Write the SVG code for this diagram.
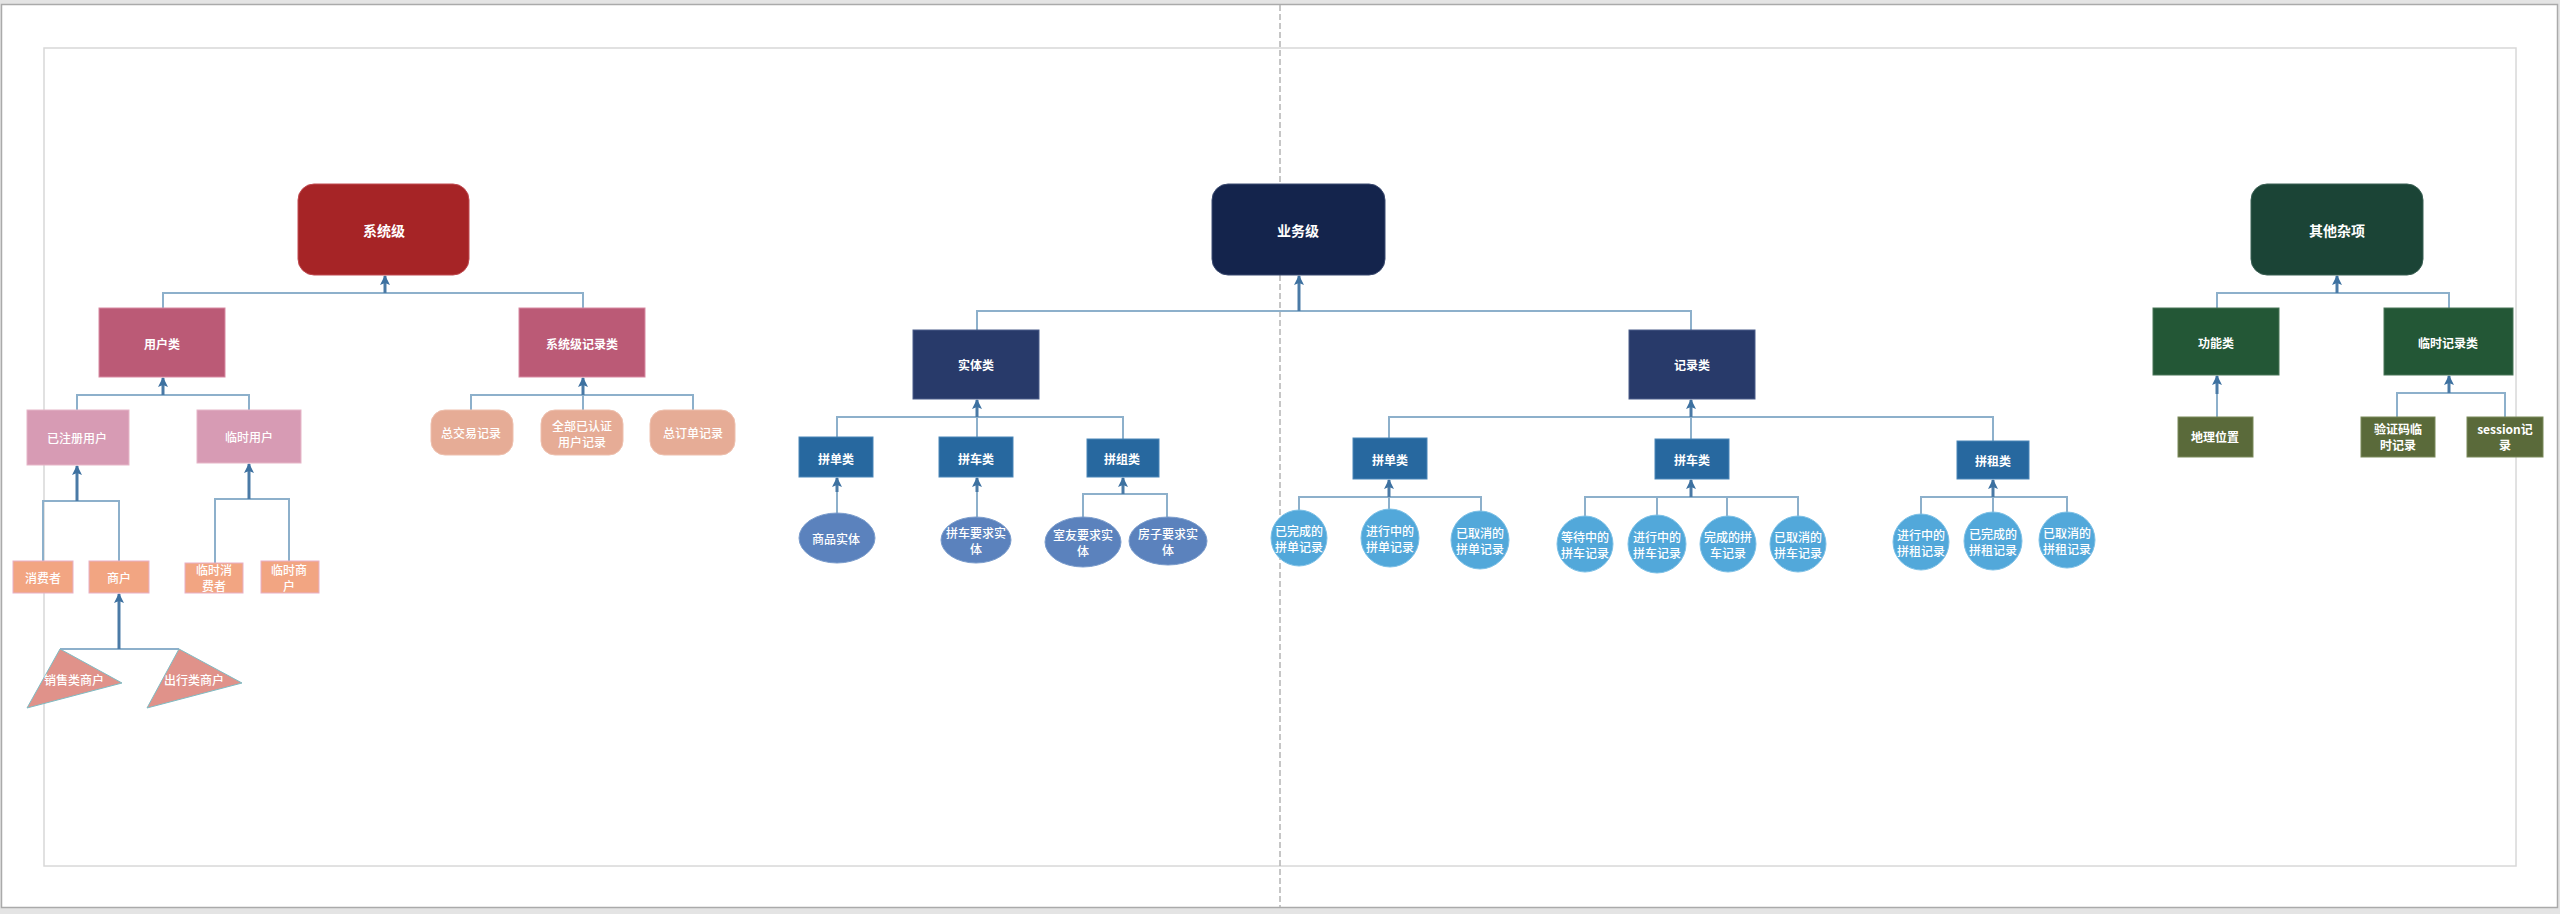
<svg xmlns="http://www.w3.org/2000/svg" width="2560" height="914" viewBox="0 0 2560 914">
<defs>
<marker id="arr" markerUnits="userSpaceOnUse" markerWidth="10" markerHeight="10" viewBox="0 0 10 10" refX="9" refY="5" orient="auto">
<path d="M0,0 L10,5 L0,10 L2,5 Z" fill="#3d71a0"/>
</marker>
<style>
.br{fill:none;stroke:#8db0cb;stroke-width:2}
.st{fill:none;stroke:#4a7aa6;stroke-width:3}
text{font-family:"Noto Sans CJK SC","Noto Sans",sans-serif;fill:#fff;text-anchor:middle;dominant-baseline:central;font-size:12px;font-weight:500}
.big{font-size:14px;font-weight:bold}
.mid{font-size:12px;font-weight:bold}
</style>
</defs>
<rect x="0" y="0" width="2560" height="914" fill="#e4e4e4"/>
<rect x="1.5" y="4.5" width="2556" height="903" fill="#fff" stroke="#aaa" stroke-width="1.5"/>
<rect x="44" y="48" width="2472" height="818" fill="none" stroke="#d8d8d8" stroke-width="1.5"/>
<line x1="1280" y1="5" x2="1280" y2="907" stroke="#b4b4b4" stroke-width="1.5" stroke-dasharray="6,3"/>

<g id="connectors">
<path class="br" d="M163,308V293H583V308"/>
<path class="st" d="M385,293V276" marker-end="url(#arr)"/>
<path class="br" d="M77,410V395H249V410"/>
<path class="st" d="M163,395V378" marker-end="url(#arr)"/>
<path class="br" d="M471,410V395H693V410M583,395V410"/>
<path class="st" d="M583,395V378" marker-end="url(#arr)"/>
<path class="br" d="M43,561V501H119V561"/>
<path class="st" d="M77,501V466" marker-end="url(#arr)"/>
<path class="br" d="M215,563V499H289V561"/>
<path class="st" d="M249,499V464" marker-end="url(#arr)"/>
<path class="br" d="M60,649H179"/>
<path class="st" d="M119,649V594" marker-end="url(#arr)"/>
<path class="br" d="M977,330V311H1691V330"/>
<path class="st" d="M1299,311V276" marker-end="url(#arr)"/>
<path class="br" d="M837,437V417H1123V439M977,417V437"/>
<path class="st" d="M977,417V400" marker-end="url(#arr)"/>
<path class="br" d="M837,513V490"/>
<path class="st" d="M837,492V478" marker-end="url(#arr)"/>
<path class="br" d="M977,517V490"/>
<path class="st" d="M977,492V478" marker-end="url(#arr)"/>
<path class="br" d="M1083,517V494H1167V517"/>
<path class="st" d="M1123,494V478" marker-end="url(#arr)"/>
<path class="br" d="M1389,438V417H1993V441M1691,417V439"/>
<path class="st" d="M1691,417V400" marker-end="url(#arr)"/>
<path class="br" d="M1299,511V497H1481V513M1389,497V510"/>
<path class="st" d="M1389,497V480" marker-end="url(#arr)"/>
<path class="br" d="M1585,517V497H1798V517M1657,497V517M1727,497V517"/>
<path class="st" d="M1691,497V480" marker-end="url(#arr)"/>
<path class="br" d="M1921,515V497H2067V513M1993,497V513"/>
<path class="st" d="M1993,497V480" marker-end="url(#arr)"/>
<path class="br" d="M2217,308V293H2449V308"/>
<path class="st" d="M2337,293V276" marker-end="url(#arr)"/>
<path class="br" d="M2217,417V392"/>
<path class="st" d="M2217,394V376" marker-end="url(#arr)"/>
<path class="br" d="M2397,417V393H2505V417"/>
<path class="st" d="M2449,393V376" marker-end="url(#arr)"/>
</g>

<g id="n-xitongji"><rect x="298" y="184" width="171" height="91" rx="16" fill="#a62426" stroke="#c04a50" stroke-width="1"/><text x="384" y="230" class="big">系统级</text></g>
<g id="n-yonghulei"><rect x="99" y="308" width="126" height="69" fill="#bb5a76" stroke="#d88aa2" stroke-width="1"/><text x="162" y="343" class="mid">用户类</text></g>
<g id="n-xitongjijilu"><rect x="519" y="308" width="126" height="69" fill="#bb5a76" stroke="#d88aa2" stroke-width="1"/><text x="582" y="343" class="mid">系统级记录类</text></g>
<g id="n-yizhuce"><rect x="27" y="410" width="102" height="55" fill="#d79bb4" stroke="#e6b6c8" stroke-width="1"/><text x="77" y="437">已注册用户</text></g>
<g id="n-linshiyonghu"><rect x="197" y="410" width="104" height="53" fill="#d79bb4" stroke="#e6b6c8" stroke-width="1"/><text x="249" y="436">临时用户</text></g>
<g id="n-zongjiaoyi"><rect x="431" y="410" width="82" height="45" rx="14" fill="#e6ac96" stroke="#eec0ae" stroke-width="1"/><text x="471" y="432">总交易记录</text></g>
<g id="n-quanbu"><rect x="541" y="410" width="82" height="45" rx="14" fill="#e6ac96" stroke="#eec0ae" stroke-width="1"/><text x="582" y="425">全部已认证</text><text x="582" y="441">用户记录</text></g>
<g id="n-zongdingdan"><rect x="650" y="410" width="85" height="45" rx="14" fill="#e6ac96" stroke="#eec0ae" stroke-width="1"/><text x="693" y="432">总订单记录</text></g>
<g id="n-xiaofeizhe"><rect x="13" y="561" width="60" height="32" fill="#f2a582" stroke="#e8b0c6" stroke-width="1"/><text x="43" y="577">消费者</text></g>
<g id="n-shanghu"><rect x="89" y="561" width="60" height="32" fill="#f2a582" stroke="#e8b0c6" stroke-width="1"/><text x="119" y="577">商户</text></g>
<g id="n-linshixiaofei"><rect x="185" y="563" width="58" height="30" fill="#f2a582" stroke="#e8b0c6" stroke-width="1"/><text x="214" y="569">临时消</text><text x="214" y="585">费者</text></g>
<g id="n-linshishanghu"><rect x="261" y="561" width="58" height="32" fill="#f2a582" stroke="#e8b0c6" stroke-width="1"/><text x="289" y="569">临时商</text><text x="289" y="585">户</text></g>
<g id="n-xiaoshou"><polygon points="60,649 122,683 27,708" fill="#e0928a" stroke="#7fbcc4" stroke-width="1"/><text x="74" y="679">销售类商户</text></g>
<g id="n-chuxing"><polygon points="179,649 242,683 147,708" fill="#e0928a" stroke="#7fbcc4" stroke-width="1"/><text x="194" y="679">出行类商户</text></g>

<g id="n-yewuji"><rect x="1212" y="184" width="173" height="91" rx="16" fill="#14244c" stroke="#3a4a70" stroke-width="1"/><text x="1298" y="230" class="big">业务级</text></g>
<g id="n-shitilei"><rect x="913" y="330" width="126" height="69" fill="#283a6a" stroke="#4a5c8a" stroke-width="1"/><text x="976" y="364" class="mid">实体类</text></g>
<g id="n-jilulei"><rect x="1629" y="330" width="126" height="69" fill="#283a6a" stroke="#4a5c8a" stroke-width="1"/><text x="1692" y="364" class="mid">记录类</text></g>
<g id="n-pindan1"><rect x="799" y="437" width="74" height="40" fill="#27689f" stroke="#4a86b8" stroke-width="1"/><text x="836" y="458" class="mid">拼单类</text></g>
<g id="n-pinche1"><rect x="939" y="437" width="74" height="40" fill="#27689f" stroke="#4a86b8" stroke-width="1"/><text x="976" y="458" class="mid">拼车类</text></g>
<g id="n-pinzu"><rect x="1087" y="439" width="72" height="38" fill="#27689f" stroke="#4a86b8" stroke-width="1"/><text x="1122" y="458" class="mid">拼组类</text></g>
<g id="n-shangpin"><ellipse cx="837" cy="538" rx="38" ry="25" fill="#5b82bd" stroke="#7a9ccc" stroke-width="1"/><text x="836" y="538">商品实体</text></g>
<g id="n-pincheyaoqiu"><ellipse cx="976" cy="540" rx="35" ry="23" fill="#5b82bd" stroke="#7a9ccc" stroke-width="1"/><text x="976" y="532">拼车要求实</text><text x="976" y="548">体</text></g>
<g id="n-shiyou"><ellipse cx="1083" cy="542" rx="38" ry="25" fill="#5b82bd" stroke="#7a9ccc" stroke-width="1"/><text x="1083" y="534">室友要求实</text><text x="1083" y="550">体</text></g>
<g id="n-fangzi"><ellipse cx="1168" cy="541" rx="39" ry="24" fill="#5b82bd" stroke="#7a9ccc" stroke-width="1"/><text x="1168" y="533">房子要求实</text><text x="1168" y="549">体</text></g>
<g id="n-pindan2"><rect x="1353" y="438" width="74" height="41" fill="#27689f" stroke="#4a86b8" stroke-width="1"/><text x="1390" y="459" class="mid">拼单类</text></g>
<g id="n-pinche2"><rect x="1655" y="439" width="74" height="40" fill="#27689f" stroke="#4a86b8" stroke-width="1"/><text x="1692" y="459" class="mid">拼车类</text></g>
<g id="n-pinzulei"><rect x="1957" y="441" width="72" height="38" fill="#27689f" stroke="#4a86b8" stroke-width="1"/><text x="1993" y="460" class="mid">拼租类</text></g>
<g id="n-c1"><circle cx="1299" cy="538" r="28" fill="#52a8da" stroke="#7cc0e6" stroke-width="1"/><text x="1299" y="530">已完成的</text><text x="1299" y="546">拼单记录</text></g>
<g id="n-c2"><circle cx="1390" cy="538" r="29" fill="#52a8da" stroke="#7cc0e6" stroke-width="1"/><text x="1390" y="530">进行中的</text><text x="1390" y="546">拼单记录</text></g>
<g id="n-c3"><circle cx="1480" cy="540" r="29" fill="#52a8da" stroke="#7cc0e6" stroke-width="1"/><text x="1480" y="532">已取消的</text><text x="1480" y="548">拼单记录</text></g>
<g id="n-c4"><circle cx="1585" cy="544" r="28" fill="#52a8da" stroke="#7cc0e6" stroke-width="1"/><text x="1585" y="536">等待中的</text><text x="1585" y="552">拼车记录</text></g>
<g id="n-c5"><circle cx="1657" cy="544" r="29" fill="#52a8da" stroke="#7cc0e6" stroke-width="1"/><text x="1657" y="536">进行中的</text><text x="1657" y="552">拼车记录</text></g>
<g id="n-c6"><circle cx="1728" cy="544" r="28" fill="#52a8da" stroke="#7cc0e6" stroke-width="1"/><text x="1728" y="536">完成的拼</text><text x="1728" y="552">车记录</text></g>
<g id="n-c7"><circle cx="1798" cy="544" r="28" fill="#52a8da" stroke="#7cc0e6" stroke-width="1"/><text x="1798" y="536">已取消的</text><text x="1798" y="552">拼车记录</text></g>
<g id="n-c8"><circle cx="1921" cy="542" r="28" fill="#52a8da" stroke="#7cc0e6" stroke-width="1"/><text x="1921" y="534">进行中的</text><text x="1921" y="550">拼租记录</text></g>
<g id="n-c9"><circle cx="1993" cy="541" r="29" fill="#52a8da" stroke="#7cc0e6" stroke-width="1"/><text x="1993" y="533">已完成的</text><text x="1993" y="549">拼租记录</text></g>
<g id="n-c10"><circle cx="2067" cy="540" r="28" fill="#52a8da" stroke="#7cc0e6" stroke-width="1"/><text x="2067" y="532">已取消的</text><text x="2067" y="548">拼租记录</text></g>

<g id="n-qita"><rect x="2251" y="184" width="172" height="91" rx="16" fill="#1b4436" stroke="#3a6054" stroke-width="1"/><text x="2337" y="230" class="big">其他杂项</text></g>
<g id="n-gongneng"><rect x="2153" y="308" width="126" height="67" fill="#235736" stroke="#4a7658" stroke-width="1"/><text x="2216" y="342" class="mid">功能类</text></g>
<g id="n-linshijilu"><rect x="2384" y="308" width="129" height="67" fill="#235736" stroke="#4a7658" stroke-width="1"/><text x="2448" y="342" class="mid">临时记录类</text></g>
<g id="n-dili"><rect x="2178" y="417" width="75" height="40" fill="#5a6a3a" stroke="#7b8a5a" stroke-width="1"/><text x="2215" y="436" class="mid">地理位置</text></g>
<g id="n-yanzheng"><rect x="2361" y="417" width="74" height="40" fill="#5a6a3a" stroke="#7b8a5a" stroke-width="1"/><text x="2398" y="428" class="mid">验证码临</text><text x="2398" y="444" class="mid">时记录</text></g>
<g id="n-session"><rect x="2467" y="417" width="76" height="40" fill="#5a6a3a" stroke="#7b8a5a" stroke-width="1"/><text x="2505" y="428" class="mid">session记</text><text x="2505" y="444" class="mid">录</text></g>
</svg>
